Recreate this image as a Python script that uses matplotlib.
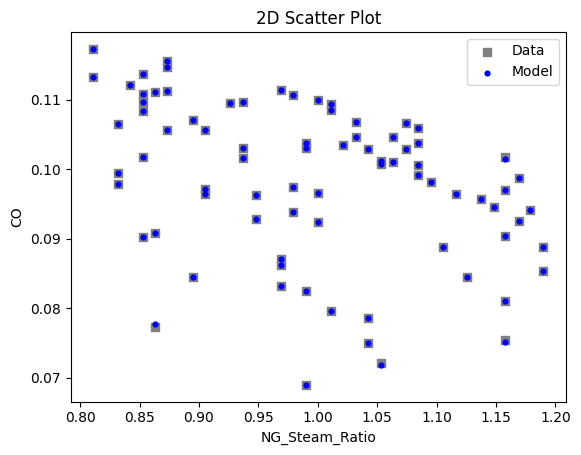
import matplotlib

matplotlib.use("Agg")

import matplotlib.pyplot as plt
import numpy as np

# values
ng_steam_ratio = [
    0.811, 0.811, 0.853, 0.842, 0.873, 0.873, 0.853, 0.853, 0.853, 0.863,
    0.873, 0.926, 0.937, 0.832, 0.895, 0.905, 0.873, 0.937, 0.937, 0.853,
    0.832, 0.832, 0.969, 0.979, 1.000, 1.011, 1.011, 1.032, 1.074, 1.084,
    0.990, 0.990, 1.021, 1.032, 1.063, 1.042, 1.074, 1.084, 1.053, 1.053,
    1.063, 1.084, 1.084, 1.095, 1.158, 1.169, 0.905, 0.905, 0.948, 0.948,
    0.853, 0.863, 0.895, 0.979, 1.000, 0.979, 1.000, 1.105, 0.969, 0.969,
    0.969, 0.990, 1.116, 1.137, 1.158, 1.148, 1.179, 1.169, 1.158, 1.190,
    1.126, 1.190, 0.863, 1.011, 1.042, 1.042, 1.053, 0.990, 1.158, 1.158,
]
co_data = [
    0.1173, 0.1133, 0.1137, 0.1121, 0.1156, 0.1147, 0.1108, 0.1097, 0.1084, 0.1111,
    0.1113, 0.1095, 0.1097, 0.1065, 0.1070, 0.1057, 0.1057, 0.1031, 0.1016, 0.1018,
    0.0994, 0.0979, 0.1114, 0.1107, 0.1100, 0.1094, 0.1085, 0.1068, 0.1066, 0.1059,
    0.1038, 0.1031, 0.1035, 0.1046, 0.1046, 0.1029, 0.1029, 0.1038, 0.1012, 0.1008,
    0.1011, 0.1006, 0.0992, 0.0981, 0.1018, 0.0987, 0.0972, 0.0964, 0.0963, 0.0929,
    0.0903, 0.0908, 0.0845, 0.0975, 0.0966, 0.0939, 0.0924, 0.0888, 0.0871, 0.0862,
    0.0832, 0.0825, 0.0964, 0.0957, 0.0970, 0.0945, 0.0941, 0.0925, 0.0904, 0.0888,
    0.0845, 0.0854, 0.0773, 0.0796, 0.0786, 0.0750, 0.0721, 0.0690, 0.0811, 0.0754,
]
co_model = [
    0.1173, 0.1133, 0.1137, 0.1121, 0.1156, 0.1147, 0.1108, 0.1097, 0.1084, 0.1111,
    0.1113, 0.1095, 0.1097, 0.1065, 0.1070, 0.1057, 0.1057, 0.1031, 0.1016, 0.1018,
    0.0994, 0.0979, 0.1114, 0.1107, 0.1100, 0.1094, 0.1085, 0.1068, 0.1066, 0.1059,
    0.1038, 0.1031, 0.1035, 0.1046, 0.1046, 0.1029, 0.1029, 0.1038, 0.1012, 0.1008,
    0.1011, 0.1006, 0.0992, 0.0981, 0.1014, 0.0987, 0.0972, 0.0964, 0.0963, 0.0929,
    0.0903, 0.0908, 0.0845, 0.0975, 0.0966, 0.0939, 0.0924, 0.0888, 0.0871, 0.0862,
    0.0832, 0.0825, 0.0964, 0.0957, 0.0970, 0.0945, 0.0941, 0.0925, 0.0904, 0.0888,
    0.0845, 0.0854, 0.0778, 0.0796, 0.0786, 0.0750, 0.0719, 0.0690, 0.0811, 0.0752,
]

fig = plt.figure(figsize=(5.81, 4.55), dpi=100)
ax = fig.add_axes([0.1217, 0.1171, 0.8525, 0.8126])
ax.scatter(ng_steam_ratio, co_data, marker="s", color="gray", s=36, label="Data")
ax.scatter(ng_steam_ratio, co_model, marker="o", color="blue", s=12, label="Model")
ax.set_title("2D Scatter Plot")
ax.set_xlabel("NG_Steam_Ratio")
ax.set_ylabel("CO")
ax.legend(loc="upper right")
fig.savefig("out.png", dpi=100)
plt.close(fig)
